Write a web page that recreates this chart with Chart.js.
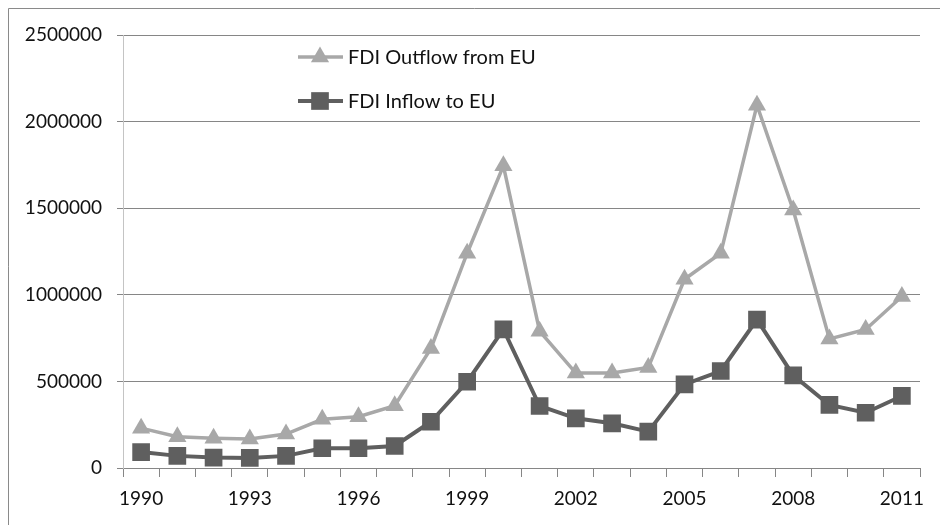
<!DOCTYPE html>
<html>
<head>
<meta charset="utf-8">
<script src="https://cdn.jsdelivr.net/npm/chart.js@4/dist/chart.umd.min.js"></script>
<style>
  html, body { margin: 0; padding: 0; background: #fff; }
  #wrap { position: relative; width: 940px; height: 525px; }
  canvas { display: block; }
</style>
</head>
<body>
<div id="wrap"><canvas id="c" width="940" height="525"></canvas></div>
<script>
const years = ['1990','1991','1992','1993','1994','1995','1996','1997','1998','1999','2000',
               '2001','2002','2003','2004','2005','2006','2007','2008','2009','2010','2011'];
const outflowFromEU = [230000, 181000, 172000, 167000, 196000, 281000, 296000, 360000, 690000, 1240000, 1745000,
                       790000, 548000, 548000, 580000, 1090000, 1240000, 2095000, 1490000, 745000, 800000, 990000];
const inflowToEU = [92000, 70000, 60000, 58000, 70000, 114000, 114000, 127000, 267000, 498000, 800000,
                    358000, 287000, 258000, 210000, 483000, 560000, 857000, 535000, 364000, 319000, 416000];
const seriesNames = ['FDI Outflow from EU', 'FDI Inflow to EU'];
const yTicks = { min: 0, max: 2500000, step: 500000 };

const FONT = 'Lato, "Open Sans", sans-serif';
const LIGHT = '#a8a8a8';
const DARK = '#5f5f5f';
const GRID = '#868686';
const TEXT = '#111111';

const framePlugin = {
  id: 'frame',
  afterDraw(chart) {
    const ctx = chart.ctx;
    ctx.save();
    ctx.strokeStyle = '#8a8a8a';
    ctx.lineWidth = 1;
    ctx.beginPath();
    ctx.moveTo(8.5, 525);
    ctx.lineTo(8.5, 8.5);
    ctx.lineTo(940, 8.5);
    ctx.stroke();
    ctx.restore();
  }
};

const legendPlugin = {
  id: 'insideLegend',
  afterDatasetsDraw(chart) {
    const ctx = chart.ctx;
    const x0 = 298, x1 = 343, xm = 320, xt = 348;
    const rows = [57, 101];
    chart.data.datasets.forEach((ds, i) => {
      const y = rows[i];
      ctx.save();
      ctx.strokeStyle = ds.borderColor;
      ctx.lineWidth = ds.borderWidth;
      ctx.beginPath();
      ctx.moveTo(x0, y);
      ctx.lineTo(x1, y);
      ctx.stroke();
      ctx.fillStyle = ds.pointBackgroundColor;
      ctx.strokeStyle = ds.pointBackgroundColor;
      ctx.lineWidth = 0.01;
      Chart.helpers.drawPoint(ctx, { pointStyle: ds.pointStyle, radius: ds.pointRadius, borderWidth: 0.01, rotation: 0 }, xm, y);
      ctx.fillStyle = TEXT;
      ctx.font = '20px ' + FONT;
      ctx.textBaseline = 'middle';
      ctx.textAlign = 'left';
      ctx.fillText(ds.label, xt, y + 1);
      ctx.restore();
    });
  }
};

new Chart(document.getElementById('c'), {
  type: 'line',
  data: {
    labels: years,
    datasets: [
      {
        label: seriesNames[0],
        data: outflowFromEU,
        borderColor: LIGHT,
        backgroundColor: LIGHT,
        pointBackgroundColor: LIGHT,
        pointBorderColor: LIGHT,
        borderWidth: 3.5,
        pointStyle: 'triangle',
        pointRadius: 10.5,
        pointBorderWidth: 0,
        tension: 0
      },
      {
        label: seriesNames[1],
        data: inflowToEU,
        borderColor: DARK,
        backgroundColor: DARK,
        pointBackgroundColor: DARK,
        pointBorderColor: DARK,
        borderWidth: 4,
        pointStyle: 'rect',
        pointRadius: 12.5,
        pointBorderWidth: 0,
        tension: 0
      }
    ]
  },
  options: {
    responsive: false,
    animation: false,
    events: [],
    layout: { padding: { left: 0, right: 20, top: 35, bottom: 0 } },
    plugins: {
      legend: { display: false },
      tooltip: { enabled: false },
      title: { display: false }
    },
    scales: {
      x: {
        type: 'category',
        offset: true,
        grid: {
          offset: true,
          drawOnChartArea: false,
          drawTicks: true,
          tickLength: 9,
          color: GRID,
          lineWidth: 1
        },
        border: { display: true, color: GRID, width: 1 },
        ticks: {
          autoSkip: false,
          maxRotation: 0,
          minRotation: 0,
          padding: 10,
          color: TEXT,
          font: { family: FONT, size: 19 },
          callback: function (val, idx) {
            return idx % 3 === 0 ? this.getLabelForValue(val) : '';
          }
        },
        afterFit(scale) { scale.height = 57; }
      },
      y: {
        min: yTicks.min,
        max: yTicks.max,
        grid: {
          color: GRID,
          lineWidth: 1,
          drawTicks: true,
          tickLength: 6
        },
        border: { display: true, color: '#c4c4c4', width: 1 },
        ticks: {
          stepSize: yTicks.step,
          padding: 15,
          color: TEXT,
          font: { family: FONT, size: 19 },
          callback: (v) => String(v)
        },
        afterFit(scale) { scale.width = 123; }
      }
    }
  },
  plugins: [framePlugin, legendPlugin]
});
</script>
</body>
</html>
